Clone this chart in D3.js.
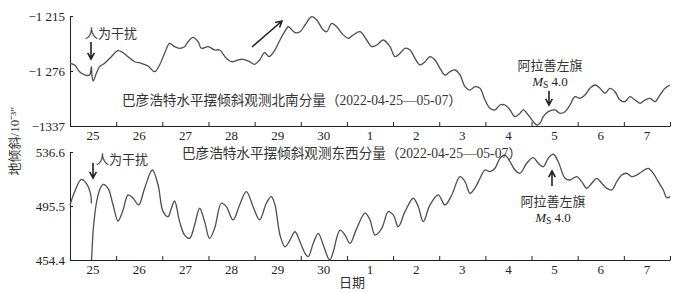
<!DOCTYPE html>
<html>
<head>
<meta charset="utf-8">
<script src="https://cdn.jsdelivr.net/npm/d3@7"></script>
<style>
  body { margin: 0; background: #fff; }
  .num { font-family: "Liberation Serif", "Noto Sans CJK SC", serif; font-size: 13px; fill: #222; }
  .cjk { font-family: "Liberation Serif", "Noto Sans CJK SC", serif; font-size: 13px; fill: #333; }
  .ttl { font-family: "Liberation Serif", "Noto Sans CJK SC", serif; font-size: 13.6px; fill: #333; }
</style>
</head>
<body>
<div id="chart"></div>
<script>
// hours since 2022-04-25 00:00, tilt value (10^-3 ")
const nsSeries = [[0,-1267.5],[2.4,-1269.3],[5.0,-1276.8],[7.6,-1280.4],[10.2,-1280.4],[11.1,-1271.2],[11.4,-1280.4],[12.1,-1287.1],[13.7,-1278.5],[15.4,-1271.2],
  [18.0,-1267.5],[21.5,-1260.1],[25.0,-1253.5],[27.6,-1255.7],[30.2,-1260.1],[33.6,-1265.7],[37.1,-1267.5],[40.6,-1270.5],[44.0,-1276.8],[46.6,-1269.3],
  [49.2,-1256.4],[51.8,-1245.3],[54.4,-1249.0],[57.0,-1250.8],[59.6,-1249.0],[61.4,-1243.5],[64.0,-1238.6],[66.6,-1243.5],[68.3,-1250.8],[71.8,-1249.0],
  [75.2,-1252.7],[77.8,-1252.7],[81.3,-1261.9],[83.9,-1265.7],[87.4,-1263.8],[90.0,-1263.0],[93.4,-1265.7],[96.0,-1268.6],[98.6,-1263.8],[101.2,-1255.7],
  [103.5,-1260.1],[106.6,-1252.7],[109.2,-1241.6],[112.2,-1230.5],[113.5,-1226.9],[117.0,-1233.5],[119.6,-1232.4],[122.2,-1225.0],[125.7,-1215.8],[128.3,-1219.4],
  [131.7,-1230.5],[133.5,-1232.4],[136.1,-1223.1],[138.7,-1226.9],[141.3,-1234.2],[144.7,-1239.7],[147.3,-1236.1],[150.8,-1232.4],[154.3,-1241.6],[156.9,-1249.0],
  [159.5,-1247.2],[162.9,-1241.6],[166.4,-1249.0],[169.0,-1260.1],[171.6,-1256.4],[174.2,-1250.8],[176.8,-1252.7],[179.4,-1261.9],[182.0,-1269.3],[184.6,-1265.7],
  [187.2,-1260.1],[189.8,-1263.8],[192.4,-1273.0],[195.0,-1280.4],[197.6,-1276.8],[200.2,-1274.9],[202.8,-1280.4],[205.4,-1293.4],[208.0,-1297.1],[210.6,-1293.4],
  [213.2,-1295.2],[215.8,-1308.2],[218.4,-1317.4],[221.0,-1319.2],[223.6,-1313.7],[226.2,-1313.7],[228.8,-1319.2],[231.4,-1326.7],[234.0,-1322.9],[235.7,-1319.2],
  [238.3,-1324.8],[240.9,-1332.2],[242.7,-1335.9],[244.4,-1334.0],[246.1,-1326.7],[248.7,-1321.1],[252.2,-1319.2],[254.8,-1322.9],[257.4,-1321.1],[260.0,-1313.7],
  [262.6,-1304.5],[265.2,-1306.3],[267.8,-1302.6],[270.4,-1295.2],[273.0,-1291.5],[275.6,-1295.2],[278.2,-1300.7],[280.8,-1295.2],[283.4,-1299.0],[286.0,-1308.2],
  [288.6,-1310.0],[291.2,-1304.5],[293.8,-1308.2],[296.4,-1311.8],[299.0,-1308.2],[301.6,-1306.3],[304.2,-1310.0],[306.8,-1302.6],[309.4,-1295.2],[312.0,-1291.5]];

// null marks the break caused by the interference
const ewSeries = [[0,496.3],[2.4,506.4],[5.9,515.8],[8.5,512.8],[10.8,503.9],[11.1,497.6],[11.15,null],[11.2,454.4],[11.6,465.8],[12.0,475.9],
  [13.7,497.6],[15.4,507.7],[17.2,512.0],[19.8,509.0],[22.4,496.3],[25.0,484.1],[27.6,492.5],[30.2,503.9],[32.8,501.4],[35.7,496.3],
  [38.8,509.0],[42.8,522.9],[45.8,511.5],[48.4,491.2],[51.0,487.4],[52.7,493.8],[54.4,499.3],[57.0,483.6],[59.6,473.4],[62.2,470.9],
  [64.8,481.0],[67.4,493.8],[70.0,483.6],[72.6,470.9],[75.2,478.5],[78.7,497.6],[81.3,495.0],[84.8,484.9],[88.2,496.3],[91.7,506.4],
  [95.2,495.0],[98.6,484.9],[102.1,497.6],[104.7,502.6],[106.6,496.3],[109.2,473.4],[111.8,464.5],[114.4,469.6],[117.0,475.9],[119.6,468.3],
  [122.2,459.5],[123.9,456.9],[126.5,467.1],[129.1,474.7],[131.7,465.8],[134.3,455.7],[135.2,454.4],[136.9,460.7],[140.4,477.2],[143.0,473.4],
  [145.6,467.1],[149.1,478.5],[153.4,490.0],[156.0,484.9],[158.6,473.4],[162.1,478.5],[165.5,491.2],[168.1,488.7],[170.7,479.8],[174.2,491.2],
  [178.5,501.4],[181.1,495.0],[183.7,483.6],[187.2,496.3],[191.5,503.9],[195.0,496.3],[198.5,503.9],[202.8,517.8],[205.4,514.0],[208.0,505.2],
  [210.5,509.0],[213.2,516.6],[215.8,522.9],[218.4,521.6],[221.0,524.2],[223.6,531.8],[226.2,534.3],[228.8,529.2],[231.4,522.9],[234.0,520.4],
  [237.5,528.0],[240.9,532.3],[243.5,528.0],[246.1,525.4],[248.7,531.8],[251.3,534.9],[253.9,529.2],[257.4,516.6],[260.0,515.3],[263.5,517.8],
  [266.1,514.0],[268.7,509.0],[271.3,512.8],[273.9,516.6],[276.5,512.8],[279.1,509.0],[281.7,507.7],[284.3,514.0],[286.9,519.1],[289.5,520.4],
  [292.1,517.8],[294.7,519.1],[297.3,521.6],[300.7,524.2],[303.3,520.4],[305.9,514.0],[308.5,507.7],[310.3,501.8],[312.0,502.6]];

const dayLabels = ["25","26","27","28","29","30","1","2","3","4","5","6","7"];
const nsTicks = [-1337, -1276, -1215];
const nsTickLabels = ["\u22121337", "\u22121 276", "\u22121 215"];
const ewTicks = [454.4, 495.5, 536.6];
const ewTickLabels = ["454.4", "495.5", "536.6"];

const W = 683, H = 293;
const svg = d3.select('#chart').append('svg')
    .attr('width', W)
    .attr('height', H);

const x = d3.scaleLinear().domain([0, 24 * dayLabels.length]).range([70, 670]);
const yNS = d3.scaleLinear().domain([-1337, -1215]).range([126, 16]);
const yEW = d3.scaleLinear().domain([454.4, 536.6]).range([260, 152]);

function drawPanel(y, ticks, tickLabels, series) {
  const bottom = y.range()[0];
  // y axis, ticks pointing inward
  const ya = svg.append('g')
      .attr('transform', 'translate(70,0)')
      .call(d3.axisLeft(y).tickValues(ticks).tickSizeInner(-3).tickSizeOuter(0).tickPadding(5)
        .tickFormat((d, i) => tickLabels[i]));
  ya.selectAll('text').attr('class', 'num').attr('font-size', null).attr('font-family', null);
  // x axis, ticks at day boundaries pointing up
  svg.append('g')
      .attr('transform', 'translate(0,' + bottom + ')')
      .call(d3.axisBottom(x).tickValues(d3.range(0, 24 * dayLabels.length + 1, 24)).tickSizeInner(-4).tickSizeOuter(0).tickFormat(''));
  svg.selectAll('.domain, .tick line').attr('stroke', '#222');
  svg.append('g').selectAll('text')
      .data(dayLabels)
      .enter()
      .append('text')
      .attr('class', 'num')
      .attr('x', (d, i) => x(i * 24 + 12))
      .attr('y', bottom + 14)
      .attr('text-anchor', 'middle')
      .text(d => d);

  const line = d3.line()
      .defined(d => d[1] != null)
      .x(d => x(d[0]))
      .y(d => y(d[1]))
      .curve(d3.curveCatmullRom.alpha(0.5));
  svg.append('path')
      .datum(series)
      .attr('d', line)
      .attr('fill', 'none')
      .attr('stroke', '#4d4d4d')
      .attr('stroke-width', 1.3);
}

drawPanel(yNS, nsTicks, nsTickLabels, nsSeries);
drawPanel(yEW, ewTicks, ewTickLabels, ewSeries);

// titles
svg.append('text').attr('class', 'ttl').attr('x', 122).attr('y', 105)
    .text('巴彦浩特水平摆倾斜观测北南分量（2022-04-25—05-07）');
svg.append('text').attr('class', 'ttl').attr('x', 182).attr('y', 158)
    .text('巴彦浩特水平摆倾斜观测东西分量（2022-04-25—05-07）');

// axis titles
svg.append('text').attr('class', 'cjk')
    .attr('transform', 'translate(19,141) rotate(-90)')
    .attr('text-anchor', 'middle')
    .text('地倾斜/10⁻³″');
svg.append('text').attr('class', 'cjk').attr('x', 352).attr('y', 287)
    .attr('text-anchor', 'middle').text('日期');

// arrows
function arrow(x1, y1, x2, y2) {
  const a = Math.atan2(y2 - y1, x2 - x1), L = 7, s = 0.5;
  svg.append('path')
      .attr('d', 'M' + x1 + ',' + y1 + 'L' + x2 + ',' + y2 +
        'M' + (x2 - L * Math.cos(a - s)) + ',' + (y2 - L * Math.sin(a - s)) + 'L' + x2 + ',' + y2 +
        'L' + (x2 - L * Math.cos(a + s)) + ',' + (y2 - L * Math.sin(a + s)))
      .attr('fill', 'none')
      .attr('stroke', '#222')
      .attr('stroke-width', 1.6);
}

svg.append('text').attr('class', 'cjk').attr('x', 85).attr('y', 38).text('人为干扰');
arrow(91, 42, 91, 59);
arrow(252, 47, 282, 21);
svg.append('text').attr('class', 'cjk').attr('x', 96).attr('y', 164).text('人为干扰');
arrow(93, 163, 93, 178);

function quake(cx, y1, y2) {
  svg.append('text').attr('class', 'cjk').attr('x', cx).attr('y', y1)
      .attr('text-anchor', 'middle').text('阿拉善左旗');
  const t = svg.append('text').attr('class', 'num').attr('x', cx).attr('y', y2)
      .attr('text-anchor', 'middle').attr('font-size', '13.5px');
  t.append('tspan').attr('font-style', 'italic').text('M');
  t.append('tspan').attr('font-size', '9.5px').attr('dy', 2).text('S');
  t.append('tspan').attr('dy', -2).text(' 4.0');
}
quake(550, 70, 86);
arrow(549, 91, 549, 105);
quake(553, 206, 222);
arrow(552, 186, 552, 171);
</script>
</body>
</html>
